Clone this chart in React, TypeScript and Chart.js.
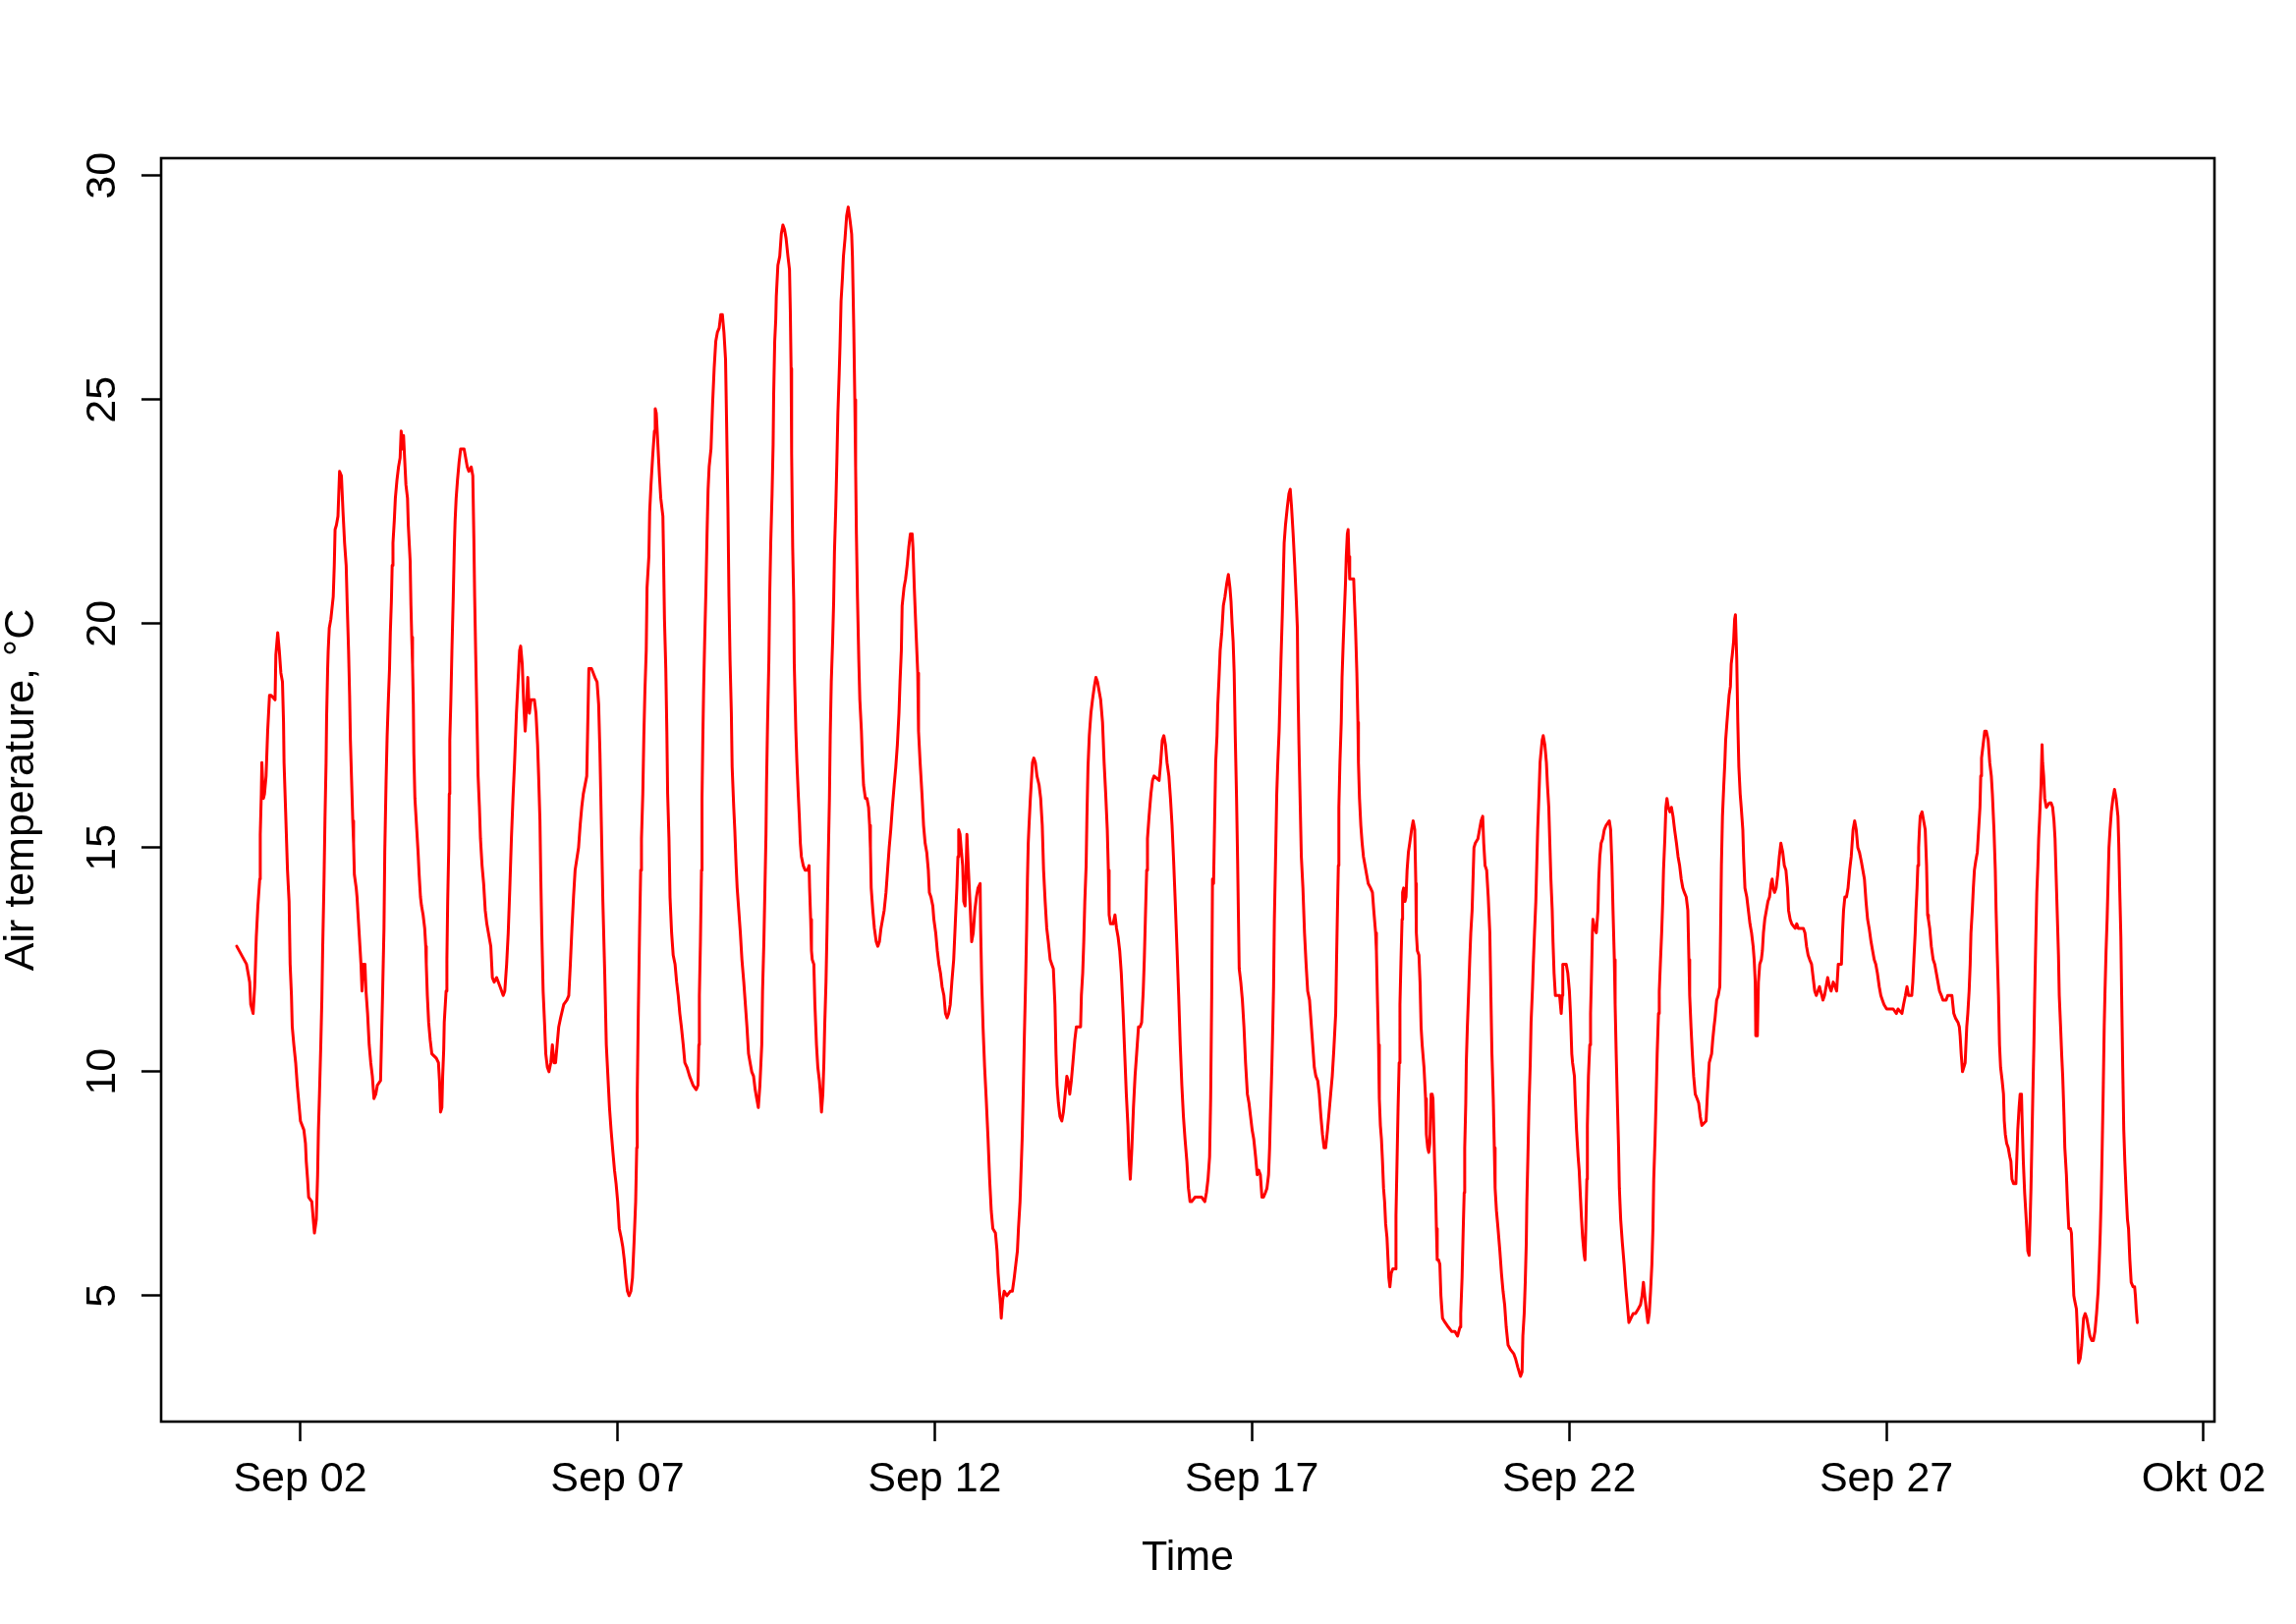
import React, { useEffect, useRef } from "react";
import { Chart, registerables } from "chart.js";

Chart.register(...registerables);

const FONT = '"Liberation Sans", Arial, Helvetica, sans-serif';

// x ticks: hours since Sep 01 00:00
const tickHours = [24, 144, 264, 384, 504, 624, 744];
const tickLabels = ["Sep 02", "Sep 07", "Sep 12", "Sep 17", "Sep 22", "Sep 27", "Okt 02"];
const tempTicks = [5, 10, 15, 20, 25, 30];

// readings: [hours since Sep 01 00:00, air temperature °C]
const sep01_04: [number, number][] = [
  [0, 12.8], [3.7, 12.4], [4.9, 12.0], [5.3, 11.5], [6.2, 11.3], [6.8, 11.9], [7.4, 13.0], [8.0, 13.7], [8.7, 14.3], [8.9, 15.3],
  [9.3, 16.2], [9.5, 16.9], [10.1, 16.1], [10.5, 16.2], [11.1, 16.6], [11.7, 17.6], [12.4, 18.4], [13.0, 18.4], [14.5, 18.3], [14.8, 19.3],
  [15.5, 19.8], [16.1, 19.4], [16.7, 18.9], [17.3, 18.7], [17.7, 17.8], [17.9, 16.9], [18.5, 15.8], [19.2, 14.5], [19.8, 13.8], [20.2, 12.4],
  [20.7, 11.7], [21.0, 11.0], [21.6, 10.6], [22.3, 10.2], [22.9, 9.7], [23.5, 9.3], [24.1, 8.9], [25.4, 8.7], [26.0, 8.4], [26.3, 8.0],
  [26.8, 7.6], [27.2, 7.2], [28.4, 7.1], [29.1, 6.6], [29.4, 6.4], [30.1, 6.7], [30.6, 7.7], [30.9, 8.7], [31.3, 9.5], [31.8, 10.6],
  [32.2, 11.6], [32.5, 12.7], [33.0, 14.2], [33.4, 15.7], [33.8, 16.9], [34.0, 17.9], [34.4, 19.0], [34.6, 19.4], [35.0, 19.9], [35.6, 20.1],
  [36.5, 20.6], [36.9, 21.3], [37.2, 22.1], [37.7, 22.2], [38.3, 22.4], [38.9, 23.4], [39.6, 23.3], [40.2, 22.5], [40.8, 21.8], [41.4, 21.3],
  [41.8, 20.4], [42.3, 19.4], [42.7, 18.4], [43.0, 17.4], [43.5, 16.4], [43.9, 15.6], [44.2, 15.1], [44.5, 14.4], [45.2, 14.1], [45.5, 13.9],
  [46.0, 13.4], [46.4, 13.0], [47.0, 12.4], [47.4, 11.8], [47.9, 12.4], [48.5, 12.4], [48.9, 11.8], [49.5, 11.3], [50.1, 10.6], [50.7, 10.2],
  [51.3, 9.9], [51.9, 9.4], [52.6, 9.5], [53.2, 9.7], [54.4, 9.8], [54.8, 10.8], [55.2, 11.8], [55.7, 13.2], [56.0, 14.9], [56.5, 16.5],
  [56.9, 17.5], [57.3, 18.2], [57.8, 19.0], [58.1, 19.8], [58.5, 20.5], [58.8, 21.3], [59.1, 21.8], [59.6, 22.3], [60.0, 22.8], [60.6, 23.2],
  [61.2, 23.5], [61.8, 23.7], [62.2, 24.3], [62.7, 23.9], [63.1, 24.2], [63.5, 23.7], [64.0, 23.1], [64.6, 22.8], [64.9, 22.2], [65.6, 21.4],
  [65.9, 20.4], [66.2, 19.7], [66.5, 19.1], [66.8, 18.2], [67.0, 17.1], [67.4, 16.1], [68.0, 15.5], [68.6, 14.9], [69.0, 14.4], [69.5, 13.9],
  [69.9, 13.7], [70.5, 13.5], [71.1, 13.2], [71.5, 12.8], [71.7, 12.4], [72.1, 11.7], [72.6, 11.1], [73.2, 10.7], [73.8, 10.4], [75.5, 10.3],
  [76.3, 10.2], [76.7, 9.8], [77.1, 9.1], [77.6, 9.2], [77.9, 9.9], [78.3, 10.5], [78.5, 11.1], [79.2, 11.8], [79.5, 12.5], [79.8, 13.8],
  [80.2, 15.0], [80.4, 16.2], [80.6, 17.4], [81.0, 18.3], [81.4, 19.4], [81.9, 20.6], [82.3, 21.7], [82.6, 22.3], [83.0, 22.8], [83.5, 23.2],
  [84.1, 23.6], [84.7, 23.9], [86.0, 23.9], [86.6, 23.7], [87.2, 23.5], [87.8, 23.4], [88.7, 23.5], [89.3, 23.3], [89.7, 21.9], [90.0, 20.6],
  [90.4, 19.3],
];

const sep04_08: [number, number][] = [
  [90.9, 17.8], [91.3, 16.6], [91.8, 15.9], [92.2, 15.2], [92.8, 14.6], [93.4, 14.2], [94.0, 13.6], [94.6, 13.3], [95.2, 13.1], [96.1, 12.8],
  [96.7, 12.1], [97.4, 12.0], [98.3, 12.1], [99.6, 11.9], [100.8, 11.7], [101.4, 11.8], [102.1, 12.4], [102.7, 13.1], [103.3, 14.1], [103.9, 15.2],
  [104.5, 16.1], [105.1, 16.9], [105.8, 18.0], [106.4, 18.7], [107.0, 19.4], [107.4, 19.5], [108.0, 19.1], [108.5, 18.3], [109.1, 17.6], [109.5, 18.0],
  [110.1, 18.8], [110.7, 18.0], [111.3, 18.3], [112.6, 18.3], [113.2, 18.0], [113.8, 17.3], [114.2, 16.6], [114.7, 15.6], [115.0, 14.4], [115.4, 13.1],
  [115.9, 11.8], [116.5, 11.0], [116.9, 10.4], [117.5, 10.1], [118.1, 10.0], [118.8, 10.2], [119.4, 10.6], [120.0, 10.2], [120.6, 10.2], [121.2, 10.6],
  [121.8, 11.0], [122.5, 11.2], [123.7, 11.5], [124.9, 11.6], [125.6, 11.7], [126.2, 12.4], [126.8, 13.2], [127.4, 13.9], [128.0, 14.5], [129.3, 15.0],
  [129.9, 15.5], [130.5, 15.9], [131.1, 16.2], [132.4, 16.6], [132.7, 17.5], [133.2, 19.0], [134.2, 19.0], [135.5, 18.8], [136.3, 18.7], [136.9, 18.2],
  [137.4, 17.1], [137.9, 15.6], [138.5, 13.8], [139.2, 12.2], [139.8, 10.6], [140.4, 9.9], [141.0, 9.2], [141.6, 8.7], [142.3, 8.2], [142.9, 7.8],
  [143.5, 7.5], [144.1, 7.1], [144.7, 6.5], [145.4, 6.3], [146.0, 6.1], [146.6, 5.8], [147.2, 5.4], [147.8, 5.1], [148.4, 5.0], [149.1, 5.1],
  [149.7, 5.4], [150.3, 6.2], [150.9, 7.1], [151.3, 8.3], [151.5, 9.5], [151.9, 11.3], [152.4, 13.2], [152.8, 14.5], [153.1, 15.2], [153.6, 16.2],
  [154.0, 17.5], [154.4, 18.5], [154.9, 19.4], [155.2, 20.8], [155.9, 21.5], [156.2, 22.5], [156.7, 23.1], [157.3, 23.7], [158.0, 24.3], [158.3, 24.8],
  [158.7, 24.7], [159.3, 24.0], [159.9, 23.3], [160.4, 22.8], [161.2, 22.4], [161.4, 21.7], [161.8, 20.1], [162.3, 19.0], [162.7, 17.6], [163.0, 16.2],
  [163.5, 15.2], [163.9, 13.9], [164.5, 13.1], [165.1, 12.6], [165.8, 12.4], [166.4, 12.0], [167.0, 11.7], [167.6, 11.3], [168.2, 11.0], [168.9, 10.6],
  [169.5, 10.2], [170.3, 10.1], [171.3, 9.9], [172.6, 9.7], [173.8, 9.6], [174.5, 9.7], [174.8, 10.6], [175.0, 11.7], [175.4, 12.9], [175.8, 14.5],
  [176.0, 16.1], [176.3, 17.4], [176.6, 18.5], [177.0, 19.6], [177.5, 20.8], [177.9, 22.0], [178.3, 23.0], [178.7, 23.5], [179.4, 23.9], [180.0, 24.9],
  [180.6, 25.7], [181.2, 26.3], [181.8, 26.5], [182.5, 26.6], [183.1, 26.9],
];

const sep08_12: [number, number][] = [
  [183.7, 26.9], [184.3, 26.5], [184.9, 25.9], [185.3, 24.5], [185.8, 22.6], [186.2, 20.6], [186.6, 19.2], [187.1, 18.0], [187.4, 16.8], [188.0, 15.9],
  [188.4, 15.4], [188.9, 14.6], [189.3, 14.1], [189.9, 13.6], [190.5, 13.1], [191.1, 12.5], [191.8, 12.0], [192.4, 11.5], [193.0, 11.0], [193.6, 10.4],
  [194.2, 10.2], [194.8, 10.0], [195.5, 9.9], [196.1, 9.6], [196.7, 9.4], [197.3, 9.2], [197.9, 9.7], [198.6, 10.6], [198.9, 11.8], [199.4, 12.9],
  [199.8, 14.1], [200.2, 15.3], [200.4, 16.4], [200.8, 17.8], [201.3, 19.2], [201.6, 20.6], [202.0, 21.8], [202.5, 22.9], [202.9, 24.0], [203.1, 25.1],
  [203.5, 26.3], [203.9, 26.8], [204.1, 27.3], [204.7, 28.0], [205.4, 28.2], [206.0, 28.7], [206.6, 28.9], [207.2, 28.8], [207.8, 28.6], [208.5, 28.2],
  [209.1, 27.9], [209.4, 27.0], [209.7, 25.7], [209.9, 23.8], [210.3, 21.7], [210.7, 20.5], [210.9, 19.1], [211.5, 17.6], [211.9, 16.9], [212.4, 16.2],
  [212.8, 15.7], [213.2, 15.1], [213.6, 14.8], [214.3, 14.6], [215.0, 14.5], [215.9, 14.5], [216.5, 14.6], [216.7, 14.1], [217.1, 13.4], [217.4, 12.7],
  [217.7, 12.5], [218.3, 12.4], [218.7, 11.5], [219.3, 10.6], [219.8, 10.1], [220.4, 9.8], [220.8, 9.5], [221.2, 9.1], [221.7, 9.5], [222.1, 10.2],
  [222.4, 11.0], [222.9, 12.0], [223.3, 13.2], [223.7, 14.6], [224.2, 16.1], [224.5, 17.5], [224.9, 18.7], [225.4, 19.6], [225.8, 20.5], [226.1, 21.6],
  [226.6, 22.6], [227.0, 23.6], [227.4, 24.7], [227.9, 25.6], [228.2, 26.2], [228.6, 27.2], [229.1, 27.7], [229.5, 28.2], [230.1, 28.6], [230.7, 29.1],
  [231.3, 29.3], [232.0, 29.0], [232.6, 28.7], [232.9, 28.2], [233.4, 26.6], [233.8, 25.0], [234.1, 23.5], [234.4, 22.0], [234.8, 20.6], [235.3, 19.2],
  [235.7, 18.3], [236.3, 17.6], [236.7, 16.9], [237.1, 16.4], [237.8, 16.1], [238.4, 16.1], [239.0, 15.9], [239.4, 15.5], [239.7, 15.0], [240.0, 14.1],
  [240.6, 13.6], [241.2, 13.2], [241.9, 12.9], [242.5, 12.8], [243.1, 12.9], [243.7, 13.2], [244.3, 13.4], [244.9, 13.6], [245.6, 14.0], [246.2, 14.5],
  [246.8, 15.0], [247.4, 15.4], [248.0, 15.9], [248.7, 16.4], [249.3, 16.8], [249.9, 17.3], [250.5, 18.0], [250.9, 18.7], [251.4, 19.4], [251.7, 20.4],
  [252.4, 20.8], [253.0, 21.0], [253.6, 21.3], [254.2, 21.7], [254.8, 22.0], [255.5, 22.0], [255.8, 21.7], [256.3, 20.8], [256.9, 19.9], [257.6, 18.9],
  [257.9, 17.6], [258.5, 16.9], [259.2, 16.2], [259.8, 15.5], [260.4, 15.1], [261.0, 14.9], [261.6, 14.5], [262.0, 14.0], [262.6, 13.9], [263.3, 13.7],
  [263.7, 13.4], [264.4, 13.1], [265.0, 12.7], [265.6, 12.4], [266.2, 12.2], [266.8, 11.9], [267.5, 11.7], [268.1, 11.3], [268.7, 11.2], [269.3, 11.3],
  [269.9, 11.5], [270.5, 12.0], [271.2, 12.5], [271.8, 13.3], [272.4, 14.1], [272.8, 14.8], [273.1, 15.4], [273.6, 15.3], [274.0, 15.0], [274.6, 14.6],
  [275.0, 13.8], [275.5, 13.7], [275.9, 14.5], [276.2, 15.3],
];

const sep12_16: [number, number][] = [
  [276.7, 14.6], [277.1, 14.1], [277.5, 13.6], [278.0, 12.9], [278.6, 13.1], [279.2, 13.6], [279.8, 13.9], [280.4, 14.1], [281.2, 14.2], [281.4, 13.2],
  [281.8, 12.0], [282.3, 11.0], [282.9, 10.1], [283.5, 9.4], [284.2, 8.5], [284.8, 7.6], [285.4, 6.9], [286.0, 6.5], [287.0, 6.4], [287.6, 6.0],
  [288.0, 5.5], [288.5, 5.1], [288.9, 4.8], [289.2, 4.5], [289.7, 4.9], [290.3, 5.1], [291.3, 5.0], [292.6, 5.1], [293.4, 5.1], [294.1, 5.4],
  [294.7, 5.7], [295.3, 6.0], [295.7, 6.5], [296.3, 7.1], [296.7, 7.8], [297.1, 8.5], [297.5, 9.5], [297.9, 10.7], [298.4, 12.0], [298.8, 13.2],
  [299.1, 14.3], [299.4, 15.1], [299.7, 15.5], [300.2, 16.1], [300.6, 16.5], [301.0, 16.9], [301.5, 17.0], [302.1, 16.9], [302.7, 16.6], [303.5, 16.4],
  [304.1, 16.1], [304.7, 15.5], [305.2, 14.5], [305.8, 13.8], [306.4, 13.2], [307.0, 12.9], [307.7, 12.5], [308.3, 12.4], [308.9, 12.3], [309.5, 11.5],
  [309.9, 10.4], [310.3, 9.7], [310.8, 9.3], [311.4, 9.0], [312.1, 8.9], [312.7, 9.1], [313.2, 9.4], [314.0, 9.9], [314.5, 9.8], [315.1, 9.5],
  [315.7, 9.8], [316.3, 10.2], [317.0, 10.7], [317.6, 11.0], [318.3, 11.0], [319.2, 11.0], [319.5, 11.7], [320.0, 12.2], [320.4, 12.9], [320.8, 13.8],
  [321.3, 14.6], [321.6, 15.7], [322.0, 16.8], [322.5, 17.5], [323.1, 18.0], [323.7, 18.3], [324.4, 18.6], [325.0, 18.8], [325.6, 18.7], [326.2, 18.5],
  [326.8, 18.3], [327.5, 17.8], [328.1, 16.9], [328.7, 16.2], [329.3, 15.4], [329.7, 14.5], [330.0, 13.5], [330.5, 13.3], [331.5, 13.3], [332.2, 13.5],
  [332.8, 13.2], [333.4, 13.0], [334.0, 12.7], [334.6, 12.2], [335.3, 11.3], [335.9, 10.4], [336.5, 9.5], [337.1, 8.8], [337.5, 8.1], [338.0, 7.6],
  [338.6, 8.3], [339.2, 9.2], [339.8, 9.9], [340.4, 10.4], [341.1, 11.0], [341.7, 11.0], [342.3, 11.1], [342.9, 11.8], [343.3, 12.5], [343.7, 13.4],
  [344.2, 14.5], [344.5, 15.2], [345.1, 15.7], [345.8, 16.2], [346.4, 16.5], [347.0, 16.6], [348.9, 16.5], [349.5, 16.9], [350.1, 17.4], [350.7, 17.5],
  [351.3, 17.3], [351.9, 16.9], [352.6, 16.6], [353.2, 16.1], [353.8, 15.5], [354.4, 14.7], [355.0, 13.8], [355.7, 12.7], [356.3, 11.7], [356.9, 10.6],
  [357.5, 9.7], [358.1, 9.0], [358.7, 8.5], [359.4, 8.0], [360.0, 7.4], [360.6, 7.1], [361.2, 7.1], [362.5, 7.2], [363.7, 7.2], [365.0, 7.2],
  [366.2, 7.1], [366.8, 7.3], [367.4, 7.6], [368.0, 8.1], [368.4, 9.4], [368.8, 11.7], [369.1, 14.3],
];

const sep16_20: [number, number][] = [
  [369.5, 14.2], [369.9, 15.6], [370.3, 16.9], [370.8, 17.5], [371.1, 18.2], [371.5, 18.7], [372.0, 19.4], [372.6, 19.8], [373.2, 20.4], [373.8, 20.6],
  [374.5, 20.9], [375.1, 21.1], [375.7, 20.8], [376.1, 20.5], [376.5, 20.0], [376.9, 19.6], [377.3, 18.9], [377.7, 17.5], [378.2, 16.1], [378.6, 14.7],
  [378.9, 13.5], [379.2, 12.3], [379.8, 12.0], [380.4, 11.6], [381.0, 11.0], [381.6, 10.2], [382.3, 9.5], [382.9, 9.3], [383.5, 9.0], [384.1, 8.7],
  [384.7, 8.5], [385.4, 8.1], [386.0, 7.7], [386.6, 7.8], [387.2, 7.7], [387.8, 7.2], [388.4, 7.2], [389.1, 7.3], [389.7, 7.4], [390.3, 7.7],
  [390.7, 8.3], [391.0, 9.0], [391.5, 10.0], [391.9, 11.0], [392.2, 11.9], [392.5, 13.4], [393.0, 14.9], [393.4, 16.2], [393.8, 16.9], [394.3, 17.6],
  [394.6, 18.3], [395.0, 19.2], [395.5, 20.2], [395.9, 21.1], [396.2, 21.8], [396.7, 22.2], [397.4, 22.6], [398.0, 22.9], [398.5, 23.0], [399.0, 22.6],
  [399.6, 22.0], [400.2, 21.3], [400.8, 20.5], [401.2, 19.9], [401.4, 18.7], [401.8, 17.3], [402.3, 15.9], [402.7, 14.8], [403.3, 14.1], [403.9, 13.1],
  [404.5, 12.4], [405.1, 11.8], [405.8, 11.6], [406.4, 11.1], [407.0, 10.6], [407.6, 10.1], [408.2, 9.9], [408.9, 9.8], [409.5, 9.5], [410.1, 9.0],
  [410.7, 8.6], [411.3, 8.3], [411.9, 8.3], [412.6, 8.7], [413.2, 9.1], [413.8, 9.5], [414.4, 9.9], [415.0, 10.5], [415.7, 11.3], [416.0, 12.4],
  [416.3, 13.4], [416.7, 14.6], [416.9, 15.9], [417.3, 16.9], [417.8, 17.8], [418.1, 18.8], [418.5, 19.5], [419.0, 20.3], [419.4, 20.9], [419.7, 21.5],
  [420.1, 22.0], [420.4, 22.1], [420.7, 21.5], [421.0, 21.0], [422.5, 21.0], [422.8, 20.5], [423.2, 19.9], [423.7, 18.9], [424.1, 17.8], [424.3, 16.9],
  [424.7, 16.1], [425.2, 15.5], [425.7, 15.1], [426.2, 14.8], [426.8, 14.6], [427.4, 14.4], [428.0, 14.2], [428.9, 14.1], [429.6, 14.0], [430.1, 13.6],
  [430.8, 13.1], [431.1, 12.7], [431.5, 11.6], [431.9, 10.6], [432.2, 9.4], [432.6, 8.8], [433.0, 8.5], [433.4, 8.0], [433.8, 7.4], [434.2, 7.1],
  [434.6, 6.6], [435.1, 6.3], [435.5, 5.8], [435.8, 5.4], [436.2, 5.2], [436.7, 5.5], [437.3, 5.6], [438.2, 5.6], [438.5, 6.8], [438.9, 8.0],
  [439.3, 9.2], [439.7, 10.2], [440.0, 11.5], [440.4, 12.5], [440.8, 13.4], [441.0, 14.0], [441.4, 14.1], [441.9, 13.8], [442.3, 13.9], [442.7, 14.5],
  [443.2, 14.9], [443.7, 15.1], [444.4, 15.4], [445.0, 15.6], [445.6, 15.4], [446.0, 14.2], [446.2, 13.1], [446.6, 12.7], [447.2, 12.6], [447.6, 12.0],
  [448.0, 11.0], [448.4, 10.6], [449.1, 10.1], [449.7, 9.4], [450.0, 8.6], [450.5, 8.3], [450.9, 8.2], [451.3, 8.4], [451.8, 9.5], [452.2, 9.5],
  [452.5, 9.4], [452.8, 8.7], [453.1, 8.0], [453.5, 7.3], [453.8, 6.5], [454.1, 5.8], [454.6, 5.8], [455.1, 5.7], [455.5, 5.0], [456.1, 4.5],
  [457.1, 4.4], [458.3, 4.3], [459.6, 4.2], [460.8, 4.2], [461.8, 4.1],
];

const sep20_24: [number, number][] = [
  [462.7, 4.3], [463.0, 4.6], [463.5, 5.4], [463.9, 6.4], [464.3, 7.3], [464.5, 8.3], [464.9, 9.3], [465.1, 10.2], [465.5, 11.0], [466.0, 11.8],
  [466.4, 12.5], [466.8, 13.1], [467.3, 13.6], [467.6, 14.2], [468.0, 15.0], [468.5, 15.1], [469.5, 15.2], [470.1, 15.4], [470.7, 15.6], [471.3, 15.7],
  [471.7, 15.1], [472.2, 14.6], [472.8, 14.5], [473.4, 13.9], [474.0, 13.1], [474.4, 11.7], [474.8, 10.4], [475.3, 9.4], [475.7, 8.3], [476.0, 7.4],
  [476.5, 6.9], [477.1, 6.5], [477.8, 6.0], [478.4, 5.5], [479.0, 5.1], [479.6, 4.8], [480.2, 4.3], [480.9, 3.9], [481.8, 3.8], [483.1, 3.7],
  [483.7, 3.6], [484.6, 3.4], [485.6, 3.2], [486.2, 3.3], [486.5, 4.1], [487.0, 4.6], [487.4, 5.3], [487.8, 6.2], [488.0, 7.1], [488.4, 8.1],
  [488.8, 9.2], [489.3, 10.2], [489.6, 11.1], [490.1, 11.8], [490.5, 12.5], [490.9, 13.1], [491.4, 13.8], [491.7, 14.5], [492.1, 15.4], [492.6, 16.2],
  [493.0, 16.9], [493.3, 17.1], [493.8, 17.4], [494.2, 17.5], [494.8, 17.3], [495.4, 16.9], [495.8, 16.4], [496.3, 15.9], [496.7, 15.1], [497.1, 14.3],
  [497.6, 13.6], [497.9, 12.9], [498.3, 12.2], [498.8, 11.7], [499.8, 11.7], [500.4, 11.7], [501.0, 11.3], [501.4, 11.7], [501.6, 12.4], [502.3, 12.4],
  [502.9, 12.4], [503.5, 12.2], [504.1, 11.8], [504.5, 11.3], [505.0, 10.4], [505.3, 10.2], [506.0, 9.9], [506.3, 9.4], [506.8, 8.7], [507.4, 8.1],
  [507.8, 7.8], [508.2, 7.3], [508.7, 6.7], [509.1, 6.3], [509.7, 5.9], [510.0, 5.8], [510.3, 6.5], [510.7, 7.6], [510.9, 8.8], [511.3, 9.9],
  [511.8, 10.6], [512.1, 11.3], [512.4, 12.0], [512.8, 13.1], [513.0, 13.4], [513.6, 13.2], [514.3, 13.1], [514.9, 13.6], [515.2, 14.3], [515.6, 14.8],
  [516.1, 15.1], [516.7, 15.2], [517.3, 15.4], [518.0, 15.5], [519.2, 15.6], [519.7, 15.4], [520.2, 14.6], [520.6, 13.6], [521.1, 12.5], [521.4, 11.5],
  [521.8, 10.4], [522.3, 9.2], [522.7, 8.3], [523.0, 7.4], [523.5, 6.7], [524.1, 6.2], [524.8, 5.7], [525.4, 5.2], [526.0, 4.8], [526.6, 4.4],
  [527.4, 4.5], [528.2, 4.6], [529.1, 4.6], [530.1, 4.7], [531.0, 4.8], [531.6, 5.0], [532.1, 5.3], [532.6, 5.0], [533.2, 4.7], [533.8, 4.4],
  [534.3, 4.6], [534.8, 5.1], [535.3, 5.7], [535.7, 6.5], [536.0, 7.6], [536.5, 8.5], [536.9, 9.4], [537.3, 10.4], [537.8, 11.3], [538.1, 11.8],
  [538.5, 12.4], [539.0, 13.1], [539.4, 13.8], [539.7, 14.5], [540.2, 15.2], [540.6, 15.9], [541.0, 16.1], [541.5, 15.9], [542.1, 15.8], [542.7, 15.9],
  [543.3, 15.7], [543.9, 15.4], [544.6, 15.1], [545.2, 14.8], [545.8, 14.6], [546.4, 14.3], [547.0, 14.1], [547.6, 14.0], [548.3, 13.9], [548.9, 13.6],
  [549.3, 12.5], [549.6, 11.7], [550.1, 11.0], [550.6, 10.4], [551.1, 9.9], [551.7, 9.5], [552.4, 9.4], [553.0, 9.3], [553.6, 9.0], [554.2, 8.8],
];

const sep24_27: [number, number][] = [
  [555.8, 8.9], [556.3, 9.5], [556.7, 9.9], [557.0, 10.2], [557.9, 10.4], [558.3, 10.7], [558.8, 11.0], [559.2, 11.2], [559.8, 11.6], [560.4, 11.7],
  [561.0, 11.9], [561.3, 13.2], [561.6, 14.6], [562.0, 15.7], [562.5, 16.4], [562.9, 16.9], [563.2, 17.4], [563.7, 17.8], [564.1, 18.1], [564.5, 18.4],
  [565.0, 18.6], [565.3, 19.1], [565.7, 19.3], [566.2, 19.6], [566.6, 20.1], [566.9, 20.2], [567.4, 19.2], [567.8, 17.8], [568.2, 16.8], [568.7, 16.2],
  [569.1, 15.9], [569.7, 15.4], [570.0, 14.8], [570.5, 14.1], [571.2, 13.9], [571.8, 13.6], [572.4, 13.3], [573.0, 13.1], [573.6, 12.8], [574.0, 12.5],
  [574.4, 12.0], [574.6, 10.8], [575.0, 11.3], [575.2, 10.8], [575.6, 12.0], [576.1, 12.4], [576.7, 12.5], [577.1, 12.7], [577.5, 13.1], [578.0, 13.4],
  [578.6, 13.6], [579.2, 13.8], [579.8, 13.9], [580.4, 14.2], [580.8, 14.3], [581.2, 14.1], [581.7, 14.0], [582.3, 14.1], [582.9, 14.4], [583.5, 14.8],
  [584.1, 15.1], [584.8, 14.9], [585.4, 14.6], [586.0, 14.5], [586.6, 14.1], [587.0, 13.6], [587.6, 13.4], [588.2, 13.3], [589.5, 13.2], [590.1, 13.3],
  [590.7, 13.2], [592.6, 13.2], [593.2, 13.1], [593.8, 12.8], [594.4, 12.6], [595.0, 12.5], [595.7, 12.4], [596.3, 12.1], [596.9, 11.8], [597.5, 11.7],
  [598.1, 11.8], [598.7, 11.9], [599.1, 11.8], [599.6, 11.7], [600.0, 11.6], [600.6, 11.7], [601.2, 11.9], [601.8, 12.1], [602.5, 11.9], [603.1, 11.8],
  [603.9, 12.0], [604.6, 11.9], [605.2, 11.8], [605.8, 12.4], [606.4, 12.4], [607.0, 12.4], [607.4, 13.1], [607.8, 13.6], [608.3, 13.9], [608.9, 13.9],
  [609.5, 14.1], [610.1, 14.5], [610.7, 14.8], [611.4, 15.4], [612.0, 15.6], [612.6, 15.4], [613.2, 15.0], [613.8, 14.9], [614.5, 14.7], [615.1, 14.5],
  [615.7, 14.3], [616.3, 13.8], [616.9, 13.4], [617.5, 13.2], [618.2, 12.9], [618.8, 12.7], [619.4, 12.5], [620.0, 12.4], [620.6, 12.2], [621.3, 11.9],
  [621.9, 11.7], [622.5, 11.6], [623.1, 11.5], [624.1, 11.4], [625.3, 11.4], [626.6, 11.4], [627.8, 11.3], [628.4, 11.4], [629.9, 11.3], [630.5, 11.5],
  [631.2, 11.7], [631.8, 11.9], [632.4, 11.7], [633.6, 11.7], [634.0, 12.0], [634.4, 12.5], [634.9, 13.1], [635.2, 13.6], [635.6, 14.1], [635.9, 14.6],
  [636.2, 15.0], [636.5, 15.4], [636.8, 15.7], [637.5, 15.8], [638.1, 15.6], [638.7, 15.4], [639.2, 14.6], [639.6, 13.5], [639.9, 13.4], [640.4, 13.2],
  [641.0, 12.8], [641.7, 12.5], [642.3, 12.4], [642.9, 12.2], [643.5, 12.0], [644.1, 11.8], [644.8, 11.7], [645.4, 11.6], [646.6, 11.6], [647.2, 11.7],
];

const sep27_30: [number, number][] = [
  [648.8, 11.7], [649.5, 11.3], [650.1, 11.2], [651.1, 11.1], [651.6, 11.0], [651.9, 10.8], [652.3, 10.4], [652.8, 10.0], [653.3, 10.1], [653.8, 10.2],
  [654.4, 11.0], [654.8, 11.3], [655.3, 11.8], [655.7, 12.4], [656.0, 13.1], [656.5, 13.6], [656.9, 14.1], [657.3, 14.5], [657.8, 14.7], [658.4, 14.9],
  [658.7, 15.2], [659.4, 15.9], [659.7, 16.6], [660.0, 17.0], [660.6, 17.3], [661.2, 17.6], [661.8, 17.6], [662.5, 17.4], [663.1, 16.9], [663.7, 16.6],
  [664.1, 16.2], [664.7, 15.4], [665.2, 14.5], [665.5, 13.6], [665.9, 12.7], [666.4, 11.7], [666.8, 10.6], [667.2, 10.1], [667.8, 9.8], [668.3, 9.5],
  [668.6, 8.9], [669.0, 8.6], [669.5, 8.4], [670.1, 8.3], [670.7, 8.1], [671.1, 8.0], [671.5, 7.6], [672.1, 7.5], [673.0, 7.5], [673.3, 8.0],
  [673.7, 8.7], [674.2, 9.2], [674.6, 9.5], [675.1, 9.5], [675.4, 8.8], [675.8, 8.0], [676.3, 7.3], [676.7, 6.9], [677.1, 6.5], [677.5, 6.0],
  [678.0, 5.9], [678.3, 6.5], [678.7, 7.4], [679.0, 8.3], [679.4, 9.5], [679.8, 10.6], [680.1, 11.7], [680.5, 12.9], [680.9, 14.0], [681.3, 14.6],
  [681.6, 15.2], [682.0, 15.7], [682.5, 16.4], [682.9, 17.3], [683.1, 16.9], [683.5, 16.6], [683.9, 16.1], [684.5, 15.9], [685.7, 16.0], [686.3, 16.0],
  [686.9, 15.9], [687.4, 15.6], [687.8, 15.2], [688.2, 14.4], [688.7, 13.4], [689.1, 12.6], [689.4, 11.7], [689.9, 11.0], [690.3, 10.4], [690.7, 9.9],
  [691.2, 9.0], [691.5, 8.3], [692.1, 7.7], [692.5, 7.1], [693.0, 6.5], [693.6, 6.5], [694.0, 6.4], [694.4, 5.8], [694.9, 5.0], [695.2, 4.9],
  [695.9, 4.7], [696.2, 4.3], [696.7, 3.5], [697.3, 3.6], [697.9, 3.9], [698.6, 4.5], [699.2, 4.6], [699.8, 4.5], [700.4, 4.3], [701.0, 4.1],
  [701.7, 4.0], [702.3, 4.0], [702.9, 4.2], [703.5, 4.6], [704.1, 5.1], [704.5, 5.7], [704.9, 6.4], [705.3, 7.3], [705.6, 8.2], [706.0, 9.5],
  [706.4, 11.0], [706.7, 11.8], [707.1, 12.7], [707.5, 13.4], [707.9, 14.3], [708.2, 15.0], [708.6, 15.4], [709.1, 15.8], [709.7, 16.1], [710.3, 16.3],
  [710.9, 16.1], [711.6, 15.7], [711.9, 15.1], [712.3, 14.0], [712.7, 13.0], [713.0, 11.7], [713.4, 10.1], [713.8, 8.7], [714.2, 8.0], [714.7, 7.3],
  [715.2, 6.7], [715.6, 6.5], [716.1, 5.8], [716.6, 5.3], [717.3, 5.2], [717.9, 5.2], [718.2, 5.0], [718.5, 4.7], [718.9, 4.4],
];

const segments = [sep01_04, sep04_08, sep08_12, sep12_16, sep16_20, sep20_24, sep24_27, sep27_30];

export default function App() {
  const ref = useRef<HTMLCanvasElement | null>(null);

  useEffect(() => {
    document.body.style.margin = "0";
    const canvas = ref.current;
    if (!canvas) return;

    const points: { x: number; y: number }[] = [];
    segments.forEach((seg) => seg.forEach(([h, t]) => points.push({ x: h, y: t })));

    const framePlugin = {
      id: "rFrame",
      afterDraw(chart: any) {
        const { ctx, chartArea: a } = chart;
        ctx.save();
        ctx.strokeStyle = "#000";
        ctx.lineWidth = 2.6;
        ctx.strokeRect(a.left, a.top, a.right - a.left, a.bottom - a.top);
        // y tick labels, rotated as in R (las = 0)
        const ys = chart.scales.y;
        ctx.fillStyle = "#000";
        ctx.font = `43px ${FONT}`;
        ctx.textAlign = "center";
        ctx.textBaseline = "alphabetic";
        tempTicks.forEach((v) => {
          const py = ys.getPixelForValue(v);
          ctx.save();
          ctx.translate(116.5, py);
          ctx.rotate(-Math.PI / 2);
          ctx.fillText(String(v), 0, 0);
          ctx.restore();
        });
        ctx.restore();
      },
    };

    const chart = new Chart(canvas, {
      type: "line",
      data: {
        datasets: [
          {
            label: "Air temperature",
            data: points,
            borderColor: "#ff0000",
            borderWidth: 3,
            borderJoinStyle: "round",
            borderCapStyle: "round",
            pointRadius: 0,
            fill: false,
            tension: 0,
          },
        ],
      },
      options: {
        responsive: false,
        animation: false,
        devicePixelRatio: 1,
        events: [],
        layout: { padding: { left: 0, top: 161, right: 83, bottom: 0 } },
        plugins: {
          legend: { display: false },
          tooltip: { enabled: false },
        },
        scales: {
          x: {
            type: "linear",
            position: "bottom",
            min: -28.6,
            max: 748.1,
            afterBuildTicks: (s: any) => {
              s.ticks = tickHours.map((v) => ({ value: v }));
            },
            afterFit: (s: any) => {
              s.height = 206;
            },
            grid: {
              display: true,
              drawOnChartArea: false,
              drawTicks: true,
              tickLength: 20,
              tickColor: "#000",
              tickWidth: 2.5,
              color: "#000",
            },
            border: { display: false },
            ticks: {
              autoSkip: false,
              maxRotation: 0,
              minRotation: 0,
              padding: 17.5,
              color: "#000",
              font: { family: FONT, size: 43, lineHeight: 1 },
              callback: (v: any) => {
                const i = tickHours.indexOf(Number(v));
                return i >= 0 ? tickLabels[i] : "";
              },
            },
            title: {
              display: true,
              text: "Time",
              color: "#000",
              font: { family: FONT, size: 43, lineHeight: 1 },
              padding: { top: 0, bottom: 45.7 },
            },
          },
          y: {
            type: "linear",
            position: "left",
            min: 2.19,
            max: 30.39,
            afterBuildTicks: (s: any) => {
              s.ticks = tempTicks.map((v) => ({ value: v }));
            },
            afterFit: (s: any) => {
              s.width = 164;
            },
            grid: {
              display: true,
              drawOnChartArea: false,
              drawTicks: true,
              tickLength: 20,
              tickColor: "#000",
              tickWidth: 2.5,
              color: "#000",
            },
            border: { display: false },
            ticks: { display: false },
            title: {
              display: true,
              text: "Air temperature, °C",
              color: "#000",
              font: { family: FONT, size: 43, lineHeight: 1 },
              padding: { top: 0.3, bottom: 0 },
            },
          },
        },
      },
      plugins: [framePlugin],
    });

    return () => chart.destroy();
  }, []);

  return (
    <div style={{ position: "absolute", left: 0, top: 0, width: 2337, height: 1653, background: "#fff" }}>
      <canvas ref={ref} width={2337} height={1653} style={{ display: "block" }} />
    </div>
  );
}
